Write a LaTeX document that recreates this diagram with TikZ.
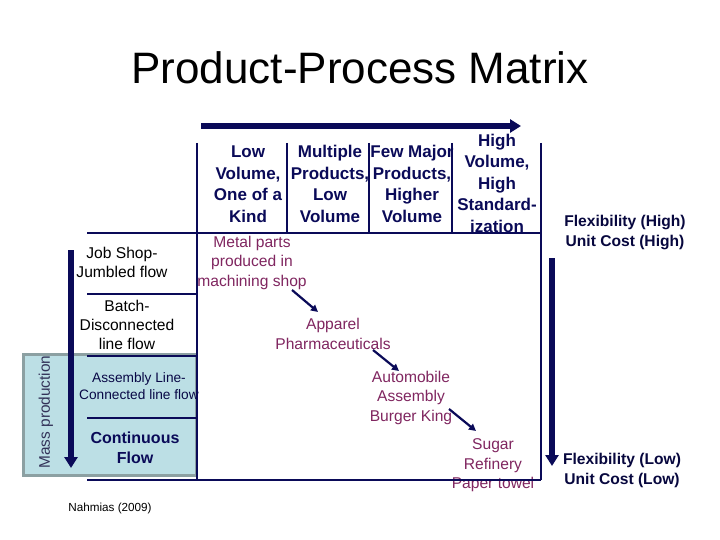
\documentclass[tikz,border=0pt]{standalone}
\usepackage{fontspec}
\setmainfont{Liberation Sans}
\usetikzlibrary{arrows.meta}
\definecolor{navy}{RGB}{10,10,88}
\definecolor{plum}{RGB}{128,38,96}
\definecolor{massfill}{RGB}{188,223,229}
\definecolor{massedge}{RGB}{140,160,162}
\tikzset{
	gridline/.style = {line width = 2.2pt, draw = navy},
	head/.style = {font = \bfseries\fontsize{17}{21.5}\selectfont, text = navy, align = center},
	rowlabel/.style = {font = \fontsize{15.6}{19}\selectfont, align = center},
	example/.style = {font = \fontsize{15.6}{19.5}\selectfont, text = plum, align = center},
	sidelabel/.style = {font = \bfseries\fontsize{15.6}{20}\selectfont, text = navy!70!black, align = center},
	bigarrow/.style = {line width = 6pt, draw = navy, -{Triangle[width = 13pt, length = 11pt]}},
	smallarrow/.style = {line width = 2.2pt, draw = navy, -{Triangle[width = 7pt, length = 7pt]}}
}

\begin{document}
\begin{tikzpicture}[x = 1pt, y = -1pt]
			\useasboundingbox[fill = white] (0, 0) rectangle (720, 540);
			% title
			\node (title) at (360, 68) {\fontsize{44}{50}\selectfont Product-Process Matrix};
			% mass production box
			\draw[massedge, fill = massfill, line width = 3pt] (23, 354) rectangle (196, 475);
			\node[rotate = 90, text = black!75!blue!60!gray, font = \fontsize{15.4}{18}\selectfont] (mass) at (46, 412) {Mass production};
			% column heads
			\node[head] (lowvol) at (248, 184) {Low\\Volume,\\One of a\\Kind};
			\node[head] (multi) at (330, 184) {Multiple\\Products,\\Low\\Volume};
			\node[head] (few) at (412, 184) {Few Major\\Products,\\Higher\\Volume};
			\node[head] (highvol) at (497, 183) {High\\Volume,\\High\\Standard-\\ization};
			% row heads
			\node[rowlabel] (jobshop) at (122, 262.5) {Job Shop-\\Jumbled flow};
			\node[rowlabel] (batch) at (127, 325) {Batch-\\Disconnected\\line flow};
			\node[rowlabel, text = navy!80!black, font = \fontsize{13.7}{17}\selectfont] (assembly) at (139, 386.5) {Assembly Line-\\Connected line flow};
			\node[head, font = \bfseries\fontsize{16}{20}\selectfont] (continuous) at (135, 448) {Continuous\\Flow};
			% examples on the diagonal
			\node[example] (metal) at (252, 262.5) {Metal parts\\produced in\\machining shop};
			\node[example] (apparel) at (333, 334) {Apparel\\Pharmaceuticals};
			\node[example] (auto) at (411, 397.5) {Automobile\\Assembly\\Burger King};
			\node[example] (sugar) at (493, 465.5) {Sugar\\Refinery\\Paper towel};
			% flexibility and cost
			\node[sidelabel] (flexhigh) at (625, 233) {Flexibility (High)\\Unit Cost (High)};
			\node[sidelabel] (flexlow) at (622, 470) {Flexibility (Low)\\Unit Cost (Low)};
			\node[font = \fontsize{11.7}{14}\selectfont] (source) at (110, 508) {Nahmias (2009)};
			% grid
			\draw[gridline] (197, 143) -- (197, 480);
			\draw[gridline] (287, 143) -- (287, 233);
			\draw[gridline] (369, 143) -- (369, 233);
			\draw[gridline] (452, 143) -- (452, 233);
			\draw[gridline] (541, 143) -- (541, 480);
			\draw[gridline] (87, 233) -- (541, 233);
			\draw[gridline] (87, 294) -- (197, 294);
			\draw[gridline] (87, 356) -- (197, 356);
			\draw[gridline] (87, 418) -- (197, 418);
			\draw[gridline] (87, 480) -- (541, 480);
			% axis arrows
			\coordinate (topstart) at (201, 126);
			\coordinate (topend) at (521, 126);
			\coordinate (leftstart) at (71, 250);
			\coordinate (leftend) at (71, 468);
			\coordinate (rightstart) at (552, 258);
			\coordinate (rightend) at (552, 466);
			\draw[bigarrow] (topstart) -- (topend);
			\draw[bigarrow] (leftstart) -- (leftend);
			\draw[bigarrow] (rightstart) -- (rightend);
			% arrows between examples
			\coordinate (a1) at (292, 290);
			\coordinate (b1) at (318, 312);
			\coordinate (a2) at (373, 350);
			\coordinate (b2) at (399, 371);
			\coordinate (a3) at (449, 409);
			\coordinate (b3) at (476, 431);
			\draw[smallarrow] (a1) -- (b1);
			\draw[smallarrow] (a2) -- (b2);
			\draw[smallarrow] (a3) -- (b3);
		\end{tikzpicture}
\end{document}
